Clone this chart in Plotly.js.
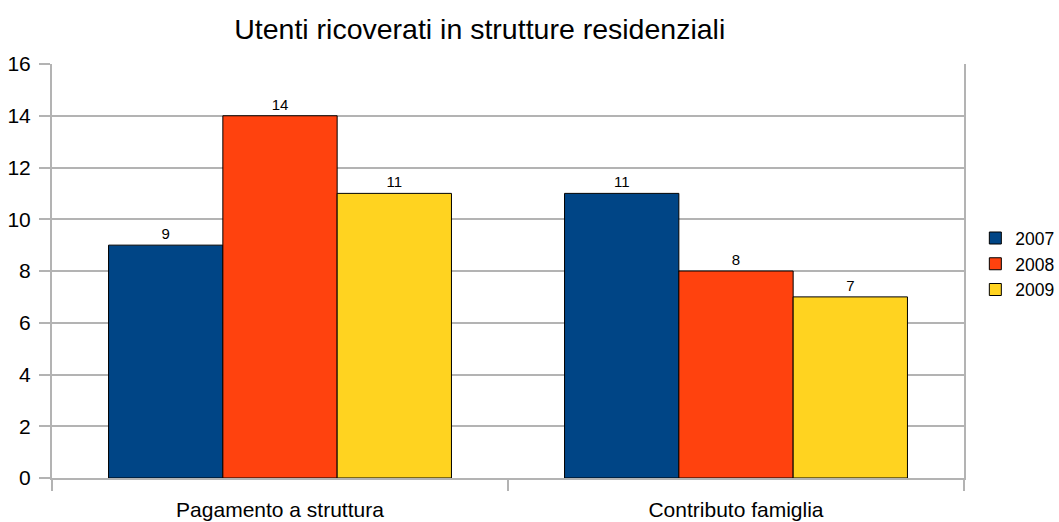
<!DOCTYPE html>
<html>
<head>
<meta charset="utf-8">
<script src="https://cdn.plot.ly/plotly-3.0.1.min.js"></script>
<style>html,body{margin:0;padding:0;background:#fff;}#chart{width:1059px;height:522px;}</style>
</head>
<body>
<div id="chart"></div>
<script>
const categories = ["Pagamento a struttura", "Contributo famiglia"];
const seriesNames = ["2007", "2008", "2009"];
const values2007 = [9, 11];
const values2008 = [14, 8];
const values2009 = [11, 7];
const colors = ["#004586", "#ff420e", "#ffd320"];
const yTicks = [0, 2, 4, 6, 8, 10, 12, 14, 16];

const allValues = [values2007, values2008, values2009];
const traces = allValues.map((vals, i) => ({
  type: "bar",
  name: seriesNames[i],
  x: categories,
  y: vals,
  text: vals.map(String),
  textposition: "outside",
  textfont: {family: "Liberation Sans, Arial, sans-serif", size: 15, color: "#000"},
  cliponaxis: false,
  marker: {color: colors[i], line: {color: "#000", width: 1}}
}));

const layout = {
  width: 1059, height: 522,
  margin: {l: 52, r: 95, t: 64, b: 44, autoexpand: false},
  paper_bgcolor: "#fff", plot_bgcolor: "#fff",
  font: {family: "Liberation Sans, Arial, sans-serif", color: "#000"},
  title: {text: "Utenti ricoverati in strutture residenziali", font: {size: 28.5, color: "#000"},
          x: 0.453, xanchor: "center", xref: "container", y: 0.945, yanchor: "middle", yref: "container"},
  barmode: "group",
  bargap: 0.248,
  bargroupgap: 0,
  showlegend: true,
  legend: {xref: "container", x: 0.921, xanchor: "left", yref: "container", y: 0.494, yanchor: "middle", font: {size: 17.5},
           itemwidth: 30, tracegroupgap: 0, bgcolor: "rgba(0,0,0,0)"},
  xaxis: {
    type: "category",
    tickson: "boundaries",
    ticks: "outside", ticklen: 11, tickcolor: "#b3b3b3", tickwidth: 2,
    showgrid: false,
    showline: true, linecolor: "#b3b3b3", linewidth: 2,
    tickfont: {size: 21, color: "#000"},
    ticklabelstandoff: 12,
    zeroline: false,
    fixedrange: true
  },
  yaxis: {
    range: [0, 16],
    tickvals: yTicks,
    ticktext: yTicks.map(String),
    ticks: "outside", ticklen: 11, tickcolor: "#b3b3b3", tickwidth: 2,
    showgrid: true, gridcolor: "#b3b3b3", gridwidth: 2,
    showline: true, linecolor: "#b3b3b3", linewidth: 2, mirror: true,
    zeroline: false,
    tickfont: {size: 21, color: "#000"},
    ticklabelstandoff: 4,
    fixedrange: true
  }
};

Plotly.newPlot("chart", traces, layout, {displayModeBar: false, staticPlot: true});
</script>
</body>
</html>
